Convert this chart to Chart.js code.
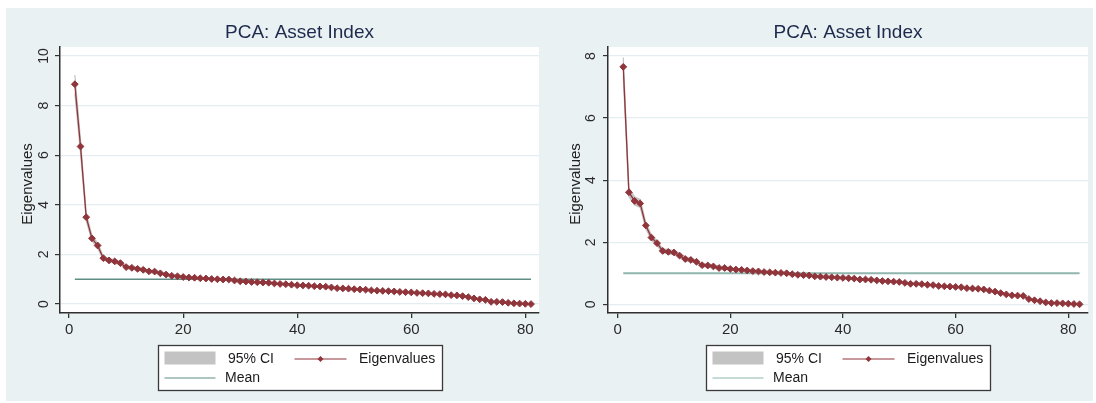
<!DOCTYPE html>
<html>
<head>
<meta charset="utf-8">
<script src="https://cdn.jsdelivr.net/npm/chart.js@4.4.1/dist/chart.umd.min.js"></script>
<style>
  html, body { margin: 0; padding: 0; background: #fff; }
  body { width: 1096px; height: 403px; position: relative; overflow: hidden; }
  #panel { position: absolute; left: 6px; top: 8px; width: 1087px; height: 393px; background: #eaf1f3; }
  canvas { position: absolute; top: 8px; }
  #leftChart { left: 6px; }
  #rightChart { left: 548px; }
</style>
</head>
<body>
<div id="panel"></div>
<canvas id="leftChart" width="542" height="393"></canvas>
<canvas id="rightChart" width="545" height="393"></canvas>
<script>
const chartTitle = 'PCA: Asset Index';
const yAxisTitle = 'Eigenvalues';
const legendLabels = ['95% CI', 'Eigenvalues', 'Mean'];
const meanEigenvalue = 1;
const xTicks = [0, 20, 40, 60, 80];
const yTicksLeft = [0, 2, 4, 6, 8, 10];
const yTicksRight = [0, 2, 4, 6, 8];

// left panel: 81 components
const eigenLeft = [
  8.86, 6.35, 3.50, 2.65, 2.36, 1.85, 1.76, 1.72, 1.65, 1.49,
  1.46, 1.42, 1.38, 1.32, 1.31, 1.24, 1.19, 1.14, 1.12, 1.09,
  1.07, 1.06, 1.04, 1.03, 1.01, 1.00, 0.99, 0.99, 0.95, 0.92,
  0.91, 0.89, 0.88, 0.87, 0.86, 0.83, 0.81, 0.80, 0.78, 0.76,
  0.75, 0.74, 0.72, 0.71, 0.70, 0.67, 0.64, 0.63, 0.62, 0.60,
  0.59, 0.58, 0.55, 0.54, 0.53, 0.52, 0.51, 0.49, 0.48, 0.47,
  0.45, 0.44, 0.43, 0.41, 0.40, 0.39, 0.36, 0.35, 0.32, 0.28,
  0.23, 0.19, 0.17, 0.09, 0.09, 0.08, 0.05, 0.03, 0.02, 0.01, 0.00
];
const ciHighLeft = [
  9.23, 6.62, 3.65, 2.76, 2.46, 1.93, 1.83, 1.79, 1.72, 1.55,
  1.52, 1.48, 1.44, 1.38, 1.37, 1.29, 1.24, 1.19, 1.17, 1.14,
  1.11, 1.10, 1.08, 1.07, 1.05, 1.04, 1.03, 1.03, 0.99, 0.96,
  0.95, 0.93, 0.92, 0.91, 0.90, 0.86, 0.84, 0.83, 0.81, 0.79,
  0.78, 0.77, 0.75, 0.74, 0.73, 0.70, 0.67, 0.66, 0.65, 0.63,
  0.61, 0.60, 0.57, 0.56, 0.55, 0.54, 0.53, 0.51, 0.50, 0.49,
  0.47, 0.46, 0.45, 0.43, 0.42, 0.41, 0.38, 0.36, 0.33, 0.29,
  0.24, 0.20, 0.18, 0.09, 0.09, 0.08, 0.05, 0.03, 0.02, 0.01, 0.00
];
const ciLowLeft = [
  8.49, 6.08, 3.35, 2.54, 2.26, 1.77, 1.69, 1.65, 1.58, 1.43,
  1.40, 1.36, 1.32, 1.26, 1.25, 1.19, 1.14, 1.09, 1.07, 1.04,
  1.03, 1.02, 1.00, 0.99, 0.97, 0.96, 0.95, 0.95, 0.91, 0.88,
  0.87, 0.85, 0.84, 0.83, 0.82, 0.80, 0.78, 0.77, 0.75, 0.73,
  0.72, 0.71, 0.69, 0.68, 0.67, 0.64, 0.61, 0.60, 0.59, 0.57,
  0.57, 0.56, 0.53, 0.52, 0.51, 0.50, 0.49, 0.47, 0.46, 0.45,
  0.43, 0.42, 0.41, 0.39, 0.38, 0.37, 0.34, 0.34, 0.31, 0.27,
  0.22, 0.18, 0.16, 0.09, 0.09, 0.08, 0.05, 0.03, 0.02, 0.01, 0.00
];

// right panel: 82 components
const eigenRight = [
  7.65, 3.61, 3.33, 3.25, 2.54, 2.15, 1.97, 1.72, 1.69, 1.67,
  1.57, 1.46, 1.43, 1.37, 1.26, 1.25, 1.22, 1.17, 1.17, 1.14,
  1.12, 1.11, 1.09, 1.07, 1.06, 1.04, 1.03, 1.02, 1.01, 1.00,
  0.97, 0.95, 0.94, 0.93, 0.90, 0.89, 0.88, 0.87, 0.86, 0.85,
  0.84, 0.83, 0.80, 0.80, 0.79, 0.77, 0.75, 0.74, 0.73, 0.72,
  0.69, 0.66, 0.66, 0.65, 0.63, 0.62, 0.59, 0.58, 0.57, 0.56,
  0.55, 0.52, 0.51, 0.50, 0.48, 0.44, 0.41, 0.36, 0.32, 0.29,
  0.28, 0.27, 0.17, 0.13, 0.10, 0.06, 0.04, 0.04, 0.03, 0.02,
  0.01, 0.00
];
const ciHighRight = [
  7.95, 3.75, 3.46, 3.38, 2.64, 2.23, 2.05, 1.79, 1.76, 1.74,
  1.63, 1.52, 1.49, 1.42, 1.31, 1.30, 1.27, 1.22, 1.22, 1.18,
  1.16, 1.15, 1.13, 1.11, 1.10, 1.08, 1.07, 1.06, 1.05, 1.04,
  1.01, 0.99, 0.98, 0.97, 0.94, 0.92, 0.91, 0.90, 0.89, 0.88,
  0.87, 0.86, 0.83, 0.83, 0.82, 0.80, 0.78, 0.77, 0.76, 0.75,
  0.72, 0.69, 0.69, 0.68, 0.65, 0.64, 0.61, 0.60, 0.59, 0.58,
  0.57, 0.54, 0.53, 0.52, 0.50, 0.46, 0.43, 0.37, 0.33, 0.30,
  0.29, 0.28, 0.18, 0.14, 0.10, 0.06, 0.04, 0.04, 0.03, 0.02,
  0.01, 0.00
];
const ciLowRight = [
  7.35, 3.47, 3.20, 3.12, 2.44, 2.07, 1.89, 1.65, 1.62, 1.60,
  1.51, 1.40, 1.37, 1.32, 1.21, 1.20, 1.17, 1.12, 1.12, 1.10,
  1.08, 1.07, 1.05, 1.03, 1.02, 1.00, 0.99, 0.98, 0.97, 0.96,
  0.93, 0.91, 0.90, 0.89, 0.86, 0.86, 0.85, 0.84, 0.83, 0.82,
  0.81, 0.80, 0.77, 0.77, 0.76, 0.74, 0.72, 0.71, 0.70, 0.69,
  0.66, 0.63, 0.63, 0.62, 0.61, 0.60, 0.57, 0.56, 0.55, 0.54,
  0.53, 0.50, 0.49, 0.48, 0.46, 0.42, 0.39, 0.35, 0.31, 0.28,
  0.27, 0.26, 0.16, 0.12, 0.10, 0.06, 0.04, 0.04, 0.03, 0.02,
  0.01, 0.00
];

const maroon = '#90353b';
const bandGray = '#c3c3c3';
const fontFamily = '"Liberation Sans", Arial, Helvetica, sans-serif';

function toPoints(values) {
  return values.map((v, i) => ({ x: i + 1, y: v }));
}

function drawDiamond(ctx, x, y, r) {
  ctx.beginPath();
  ctx.moveTo(x, y - r);
  ctx.lineTo(x + r, y);
  ctx.lineTo(x, y + r);
  ctx.lineTo(x - r, y);
  ctx.closePath();
  ctx.fill();
}

// white plot region, title, y title and the boxed legend (Stata style)
const panelDecor = {
  id: 'panelDecor',
  beforeDraw(chart) {
    const a = chart.chartArea;
    chart.ctx.save();
    chart.ctx.fillStyle = '#ffffff';
    chart.ctx.fillRect(a.left, a.top, a.right - a.left, a.bottom - a.top);
    chart.ctx.restore();
  },
  afterDraw(chart, args, opts) {
    const ctx = chart.ctx;
    const a = chart.chartArea;
    const cx = (a.left + a.right) / 2;
    ctx.save();

    ctx.fillStyle = '#1d2a4d';
    ctx.font = '19px ' + fontFamily;
    ctx.textAlign = 'center';
    ctx.textBaseline = 'middle';
    ctx.fillText(chartTitle, cx, 25);

    ctx.save();
    ctx.translate(a.left - 32.5, (a.top + a.bottom) / 2 + 4);
    ctx.rotate(-Math.PI / 2);
    ctx.fillStyle = '#222';
    ctx.font = '15px ' + fontFamily;
    ctx.fillText(yAxisTitle, 0, 0);
    ctx.restore();

    const L = Math.round(cx - 142) + 0.5;
    const T = 337.5;
    ctx.fillStyle = '#ffffff';
    ctx.fillRect(L, T, 284, 45);
    ctx.strokeStyle = '#3a3a3a';
    ctx.lineWidth = 1.3;
    ctx.strokeRect(L, T, 284, 45);

    ctx.fillStyle = bandGray;
    ctx.fillRect(L + 6, T + 6, 51, 13);

    ctx.strokeStyle = maroon;
    ctx.lineWidth = 1.2;
    ctx.beginPath();
    ctx.moveTo(L + 136, T + 13.5);
    ctx.lineTo(L + 188, T + 13.5);
    ctx.stroke();
    ctx.fillStyle = maroon;
    drawDiamond(ctx, L + 162, T + 13.5, 3);

    ctx.strokeStyle = opts.meanColor;
    ctx.lineWidth = 1.2;
    ctx.beginPath();
    ctx.moveTo(L + 6, T + 32.5);
    ctx.lineTo(L + 57, T + 32.5);
    ctx.stroke();

    ctx.fillStyle = '#1a1a1a';
    ctx.font = '14px ' + fontFamily;
    ctx.textAlign = 'left';
    ctx.textBaseline = 'middle';
    ctx.fillText(legendLabels[0], L + 69.5, T + 14);
    ctx.fillText(legendLabels[1], L + 200.5, T + 14);
    ctx.fillText(legendLabels[2], L + 66.5, T + 33);
    ctx.restore();
  }
};

function makeChart(canvasId, cfg) {
  const n = cfg.eigen.length;
  const meanData = [{ x: 1, y: meanEigenvalue }, { x: n, y: meanEigenvalue }];

  return new Chart(document.getElementById(canvasId), {
    type: 'line',
    data: {
      datasets: [
        {
          label: 'ciHigh',
          data: toPoints(cfg.ciHigh),
          borderColor: bandGray,
          borderWidth: 1.2,
          backgroundColor: bandGray,
          pointRadius: 0,
          fill: '+1',
          order: 3
        },
        {
          label: 'ciLow',
          data: toPoints(cfg.ciLow),
          borderColor: bandGray,
          borderWidth: 1.2,
          pointRadius: 0,
          fill: false,
          order: 2
        },
        {
          label: 'Mean',
          data: meanData,
          borderColor: cfg.meanColor,
          borderWidth: cfg.meanWidth,
          pointRadius: 0,
          fill: false,
          order: 1
        },
        {
          label: 'Eigenvalues',
          data: toPoints(cfg.eigen),
          borderColor: maroon,
          borderWidth: 1.3,
          backgroundColor: maroon,
          pointStyle: 'rectRot',
          pointRadius: 3.4,
          pointBorderWidth: 1,
          fill: false,
          order: 0
        }
      ]
    },
    options: {
      responsive: false,
      animation: false,
      devicePixelRatio: 1,
      layout: { padding: { left: 0, top: 39, right: cfg.padRight, bottom: 58 } },
      plugins: {
        legend: { display: false },
        title: { display: false },
        tooltip: { enabled: false },
        panelDecor: { meanColor: cfg.meanColor }
      },
      scales: {
        x: {
          type: 'linear',
          min: cfg.xMin,
          max: cfg.xMax,
          afterBuildTicks: function(scale) {
            scale.ticks = xTicks.map(v => ({ value: v }));
          },
          afterFit: function(scale) { scale.height = 30; },
          grid: { drawOnChartArea: false, tickLength: 5, tickColor: '#333', lineWidth: 1.3 },
          border: { color: '#2f2f2f', width: 1.5 },
          ticks: { color: '#2a2a2a', padding: 3, maxRotation: 0, font: { size: 15, family: fontFamily } }
        },
        y: {
          type: 'linear',
          min: cfg.yMin,
          max: cfg.yMax,
          afterBuildTicks: function(scale) {
            scale.ticks = cfg.yTicks.map(v => ({ value: v }));
          },
          afterFit: function(scale) { scale.width = cfg.yAxisWidth; },
          grid: { color: '#e4edef', lineWidth: 1.2, tickLength: 5, tickColor: '#333' },
          border: { color: '#2f2f2f', width: 1.5 },
          ticks: {
            color: '#2a2a2a',
            minRotation: 90,
            maxRotation: 90,
            crossAlign: 'center',
            padding: cfg.yTickPad,
            font: { size: 14, family: fontFamily }
          }
        }
      }
    },
    plugins: [panelDecor]
  });
}

makeChart('leftChart', {
  eigen: eigenLeft, ciHigh: ciHighLeft, ciLow: ciLowLeft,
  yTicks: yTicksLeft, yMin: -0.36, yMax: 10.36,
  xMin: -1.6, xMax: 82.4,
  yAxisWidth: 54, padRight: 9, yTickPad: 3.5,
  meanColor: '#5f8d84', meanWidth: 1.3
});

makeChart('rightChart', {
  eigen: eigenRight, ciHigh: ciHighRight, ciLow: ciLowRight,
  yTicks: yTicksRight, yMin: -0.28, yMax: 8.29,
  xMin: -1.71, xMax: 83.5,
  yAxisWidth: 60, padRight: 5, yTickPad: 7.5,
  meanColor: '#8fb5ad', meanWidth: 2.2
});
</script>
</body>
</html>
